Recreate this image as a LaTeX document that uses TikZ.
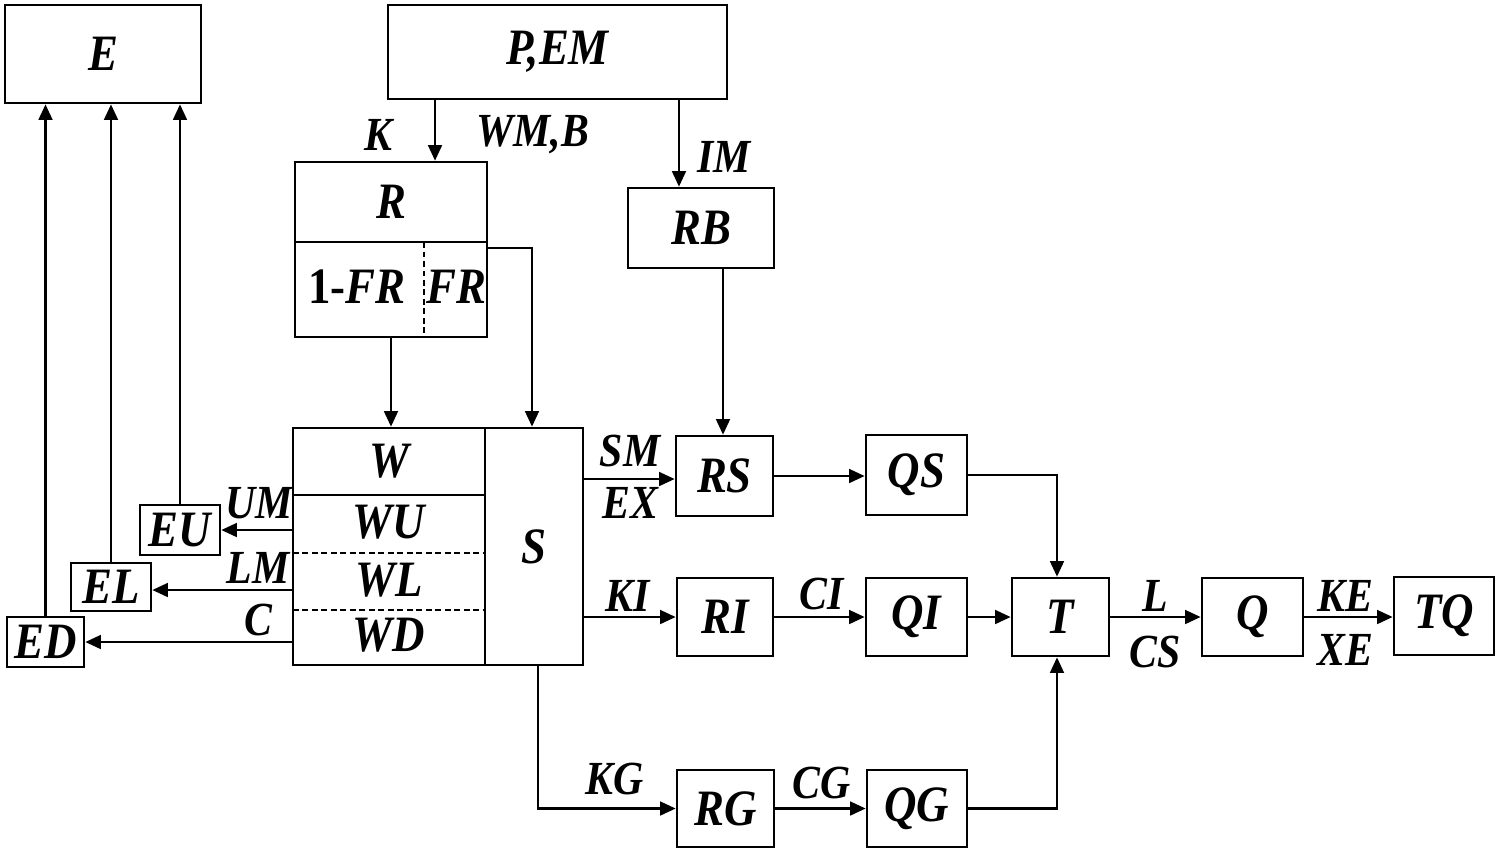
\documentclass[tikz,border=0pt]{standalone}
\usepackage{fontspec}
\setmainfont{Liberation Serif}[FakeStretch=0.88]
\usepackage{tikz}
\usetikzlibrary{arrows.meta,calc}

\begin{document}
\begin{tikzpicture}[
  x=0.01cm, y=-0.01cm,
  every node/.style={font=\fontsize{14.5}{16}\selectfont\bfseries\itshape},
  blk/.style={rectangle, draw=black, line width=0.75pt, inner sep=0pt},
  txt/.style={inner sep=0pt},
  lbl/.style={inner sep=0pt, font=\fontsize{13.5}{15}\selectfont\bfseries\itshape},
  arr/.style={-{Triangle[length=4.4pt,width=3.9pt]}, line width=0.65pt},
  dsh/.style={line width=0.6pt, dash pattern=on 1.6pt off 1.1pt},
]
\useasboundingbox (0,0) rectangle (1502,856);

%% ─ Top nodes ───────────────────────────────────────────────────────────────
\node[blk, minimum width=1.96cm, minimum height=0.98cm] (e)   at (103,54)    {E};
\node[blk, minimum width=3.39cm, minimum height=0.94cm] (pem) at (557.5,52)  {P,EM};

%% ─ R block (two parts) ─────────────────────────────────────────────────────
\node[blk, minimum width=1.92cm, minimum height=0.80cm] (rtop) at (391,202)   {R};
\node[blk, minimum width=1.92cm, minimum height=0.95cm] (rlow) at (391,289.5) {};
\node[txt] (rone) at (357,287) {\upshape 1-\itshape FR};
\node[txt] (rfr)  at (456,287) {FR};
\draw[dsh] (424,242) -- (424,337);

\node[blk, minimum width=1.46cm, minimum height=0.80cm] (rb) at (701,228) {RB};

%% ─ W / S block ─────────────────────────────────────────────────────────────
\node[blk, minimum width=1.92cm, minimum height=0.67cm] (w)    at (389,461.5) {W};
\node[blk, minimum width=1.92cm, minimum height=1.70cm] (wlow) at (389,580)   {};
\node[txt] (wu) at (389,522) {WU};
\node[txt] (wl) at (389,580) {WL};
\node[txt] (wd) at (389,635) {WD};
\draw[dsh] (293,553) -- (485,553);
\draw[dsh] (293,610) -- (485,610);
\node[blk, minimum width=0.98cm, minimum height=2.37cm] (s) at (534,546.5) {S};

%% ─ Left side nodes ─────────────────────────────────────────────────────────
\node[blk, minimum width=0.80cm, minimum height=0.50cm] (eu) at (180,530)  {EU};
\node[blk, minimum width=0.80cm, minimum height=0.48cm] (el) at (111,587)  {EL};
\node[blk, minimum width=0.77cm, minimum height=0.50cm] (ed) at (45.5,642) {ED};

%% ─ Right side nodes ────────────────────────────────────────────────────────
\node[blk, minimum width=0.97cm, minimum height=0.80cm] (rs) at (724.5,476)  {RS};
\node[blk, minimum width=1.01cm, minimum height=0.80cm] (qs) at (916.5,475)  {QS};
\node[blk, minimum width=0.96cm, minimum height=0.78cm] (ri) at (725,617)    {RI};
\node[blk, minimum width=1.01cm, minimum height=0.78cm] (qi) at (916.5,617)  {QI};
\node[blk, minimum width=0.97cm, minimum height=0.78cm] (t)  at (1060.5,617) {T};
\node[blk, minimum width=1.01cm, minimum height=0.78cm] (q)  at (1252.5,617) {Q};
\node[blk, minimum width=1.00cm, minimum height=0.78cm] (tq) at (1444,616)   {TQ};
\node[blk, minimum width=0.97cm, minimum height=0.77cm] (rg) at (725.5,808.5) {RG};
\node[blk, minimum width=1.00cm, minimum height=0.77cm] (qg) at (917,808.5)   {QG};

%% ─ Arrows: top ─────────────────────────────────────────────────────────────
\draw[arr] ([xshift=0.44cm]rtop.north |- pem.south) -- ([xshift=0.44cm]rtop.north);
\draw[arr] ([xshift=-0.22cm]rb.north |- pem.south) -- ([xshift=-0.22cm]rb.north);
\draw[arr] (rlow.south) -- (w.north -| rlow.south);
\draw[arr] ([yshift=-0.07cm]rlow.north east) -| ([xshift=-0.02cm]s.north);
\draw[arr] ([xshift=-0.015cm]rs.north |- rb.south) -- ([xshift=-0.015cm]rs.north);

%% ─ Arrows: left ────────────────────────────────────────────────────────────
\draw[arr] (eu -| wlow.west) -- (eu.east);
\draw[arr] ([yshift=-0.03cm]el -| wlow.west) -- ([yshift=-0.03cm]el.east);
\draw[arr] (ed -| wlow.west) -- (ed.east);
\draw[arr] (eu.north) -- (eu.north |- e.south);
\draw[arr] (el.north) -- (el.north |- e.south);
\draw[arr] (ed.north) -- (ed.north |- e.south);

%% ─ Arrows: right ───────────────────────────────────────────────────────────
\draw[arr] ([yshift=-0.03cm]s.east |- rs) -- ([yshift=-0.03cm]rs.west);
\draw[arr] (s.east |- ri) -- (ri.west);
\draw[arr] ([xshift=0.04cm]s.south) |- (rg.west);
\draw[arr] (rs.east) -- (qs.west |- rs.east);
\draw[arr] (ri.east) -- (qi.west);
\draw[arr] (rg.east) -- (qg.west);
\draw[arr] (qs.east) -| ([xshift=-0.035cm]t.north);
\draw[arr] (qg.east) -| ([xshift=-0.035cm]t.south);
\draw[arr] (qi.east) -- (t.west);
\draw[arr] (t.east)  -- (q.west);
\draw[arr] (q.east)  -- (tq.west |- q.east);

%% ─ Labels ──────────────────────────────────────────────────────────────────
\node[lbl] (lk)  at (378,135)  {K};
\node[lbl] (lwm) at (533,135)  {WM,B};
\node[lbl] (lim) at (724,157)  {IM};
\node[lbl] (lum) at (259,503)  {UM};
\node[lbl] (llm) at (258,568)  {LM};
\node[lbl] (lc)  at (258,620)  {C};
\node[lbl] (lsm) at (630,451)  {SM};
\node[lbl] (lex) at (630,503)  {EX};
\node[lbl] (lki) at (628,596)  {KI};
\node[lbl] (lkg) at (615,779)  {KG};
\node[lbl] (lci) at (822,594)  {CI};
\node[lbl] (lcg) at (822,783)  {CG};
\node[lbl] (ll)  at (1155,596) {L};
\node[lbl] (lcs) at (1155,652) {CS};
\node[lbl] (lke) at (1345,596) {KE};
\node[lbl] (lxe) at (1345,650) {XE};

\end{tikzpicture}
\end{document}
